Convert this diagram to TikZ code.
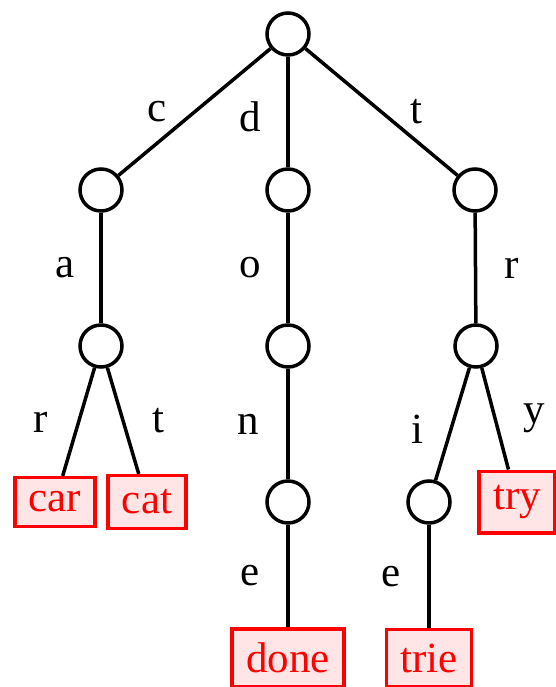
\documentclass[tikz,border=0pt]{standalone}
\usepackage{fontspec}
\setmainfont{Liberation Serif}
\begin{document}
\begin{tikzpicture}[x=1pt,y=-1pt,
  every node/.style={font=\fontsize{43}{50}\selectfont},
  inode/.style={circle,draw=black,line width=3.5pt,minimum size=42pt,inner sep=0pt,fill=white},
  leaf/.style={rectangle,draw=red,line width=3.5pt,fill=red!10,text=red,inner sep=14pt},
  edge/.style={line width=3.5pt,black},
  lab/.style={text=black,inner sep=0pt}]
\useasboundingbox (0,0) rectangle (556,687);
% nodes
\node[inode] (root) at (288,34) {};
\node[inode] (c) at (101,190) {};
\node[inode] (d) at (288,190) {};
\node[inode] (t) at (475,190) {};
\node[inode] (ca) at (101,346) {};
\node[inode] (do) at (288,346) {};
\node[inode] (tr) at (476,346) {};
\node[leaf] (car) at (55,502) {car};
\node[leaf] (cat) at (147,502) {cat};
\node[inode] (don) at (288,502) {};
\node[inode] (tri) at (429,502) {};
\node[leaf] (try) at (517,502) {try};
\node[leaf] (done) at (288,658) {done};
\node[leaf] (trie) at (429,658) {trie};
% edges with labels
\draw[edge] (root) -- node[lab,xshift=-37pt] {c} (c);
\draw[edge] (root) -- node[lab,xshift=-38pt,yshift=-5pt] {d} (d);
\draw[edge] (root) -- node[lab,xshift=35pt] {t} (t);
\draw[edge] (c) -- node[lab,xshift=-36pt] {a} (ca);
\draw[edge] (d) -- node[lab,xshift=-38pt] {o} (do);
\draw[edge] (t) -- node[lab,xshift=36pt] {r} (tr);
\draw[edge] (ca) -- node[lab,xshift=-38pt] {r} (car);
\draw[edge] (ca) -- node[lab,xshift=35pt] {t} (cat);
\draw[edge] (do) -- node[lab,xshift=-40pt] {n} (don);
\draw[edge] (tr) -- node[lab,xshift=-35pt,yshift=-5pt] {i} (tri);
\draw[edge] (tr) -- node[lab,xshift=39pt] {y} (try);
\draw[edge] (don) -- node[lab,xshift=-38pt] {e} (done);
\draw[edge] (tri) -- node[lab,xshift=-38pt] {e} (trie);
\end{tikzpicture}
\end{document}
